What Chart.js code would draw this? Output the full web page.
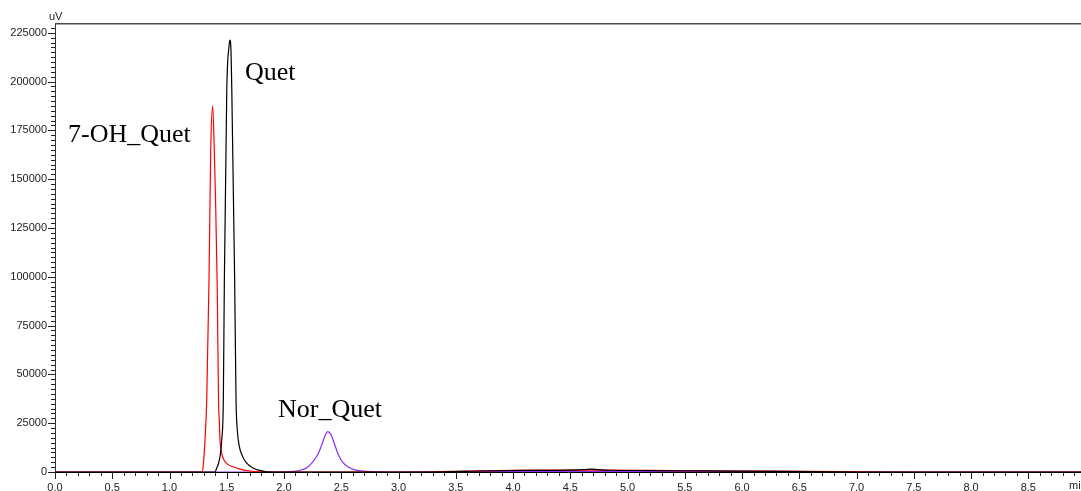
<!DOCTYPE html>
<html>
<head>
<meta charset="utf-8">
<title>Chromatogram</title>
<script src="https://cdn.jsdelivr.net/npm/chart.js@4/dist/chart.umd.min.js"></script>
<style>
  html, body { margin: 0; padding: 0; background: #ffffff; overflow: hidden; }
  canvas { display: block; }
</style>
</head>
<body>
<canvas id="chrom" width="1081" height="491"></canvas>
<script>
// Retention time (min) and detector response (uV) for each trace
const redTime = [0, 1.20, 1.284, 1.295, 1.310, 1.325, 1.345, 1.360, 1.377, 1.391, 1.402, 1.417, 1.428, 1.435, 1.441, 1.450, 1.459, 1.478, 1.509, 1.546, 1.616, 1.703, 1.80, 2.0, 3.2, 3.6, 4.0, 4.4, 4.8, 5.2, 5.6, 6.0, 6.6, 7.3, 8.96];
const redSignal = [0, 0, 0, 3600, 16400, 36900, 98400, 165000, 187600, 165000, 139400, 93300, 36900, 26000, 16400, 11500, 8700, 5900, 3900, 2800, 1500, 500, 100, 0, 0, 500, 800, 950, 950, 800, 650, 500, 300, 0, 0];

const blackTime = [0, 1.30, 1.397, 1.412, 1.435, 1.456, 1.470, 1.479, 1.500, 1.521, 1.528, 1.535, 1.544, 1.569, 1.581, 1.592, 1.610, 1.639, 1.674, 1.732, 1.790, 1.849, 2.0, 3.3, 3.7, 4.1, 4.5, 4.62, 4.68, 4.74, 4.85, 5.2, 5.7, 6.3, 7.0, 8.96];
const blackSignal = [0, 0, 0, 2000, 6100, 16400, 36900, 98300, 195700, 218800, 221300, 218800, 195700, 98300, 36900, 21500, 13000, 7800, 4500, 1900, 800, 100, 0, 0, 500, 800, 950, 1200, 1500, 1200, 900, 750, 550, 350, 0, 0];

const purpleTime = [0, 1.40, 2.00, 2.08, 2.15, 2.20, 2.25, 2.30, 2.33, 2.36, 2.382, 2.41, 2.44, 2.47, 2.51, 2.56, 2.62, 2.70, 2.81, 3.0, 3.5, 5.0, 6.5, 7.5, 8.96];
const purpleSignal = [0, 0, 0, 300, 1000, 2200, 5000, 9600, 14000, 18800, 20650, 19200, 14500, 9500, 5200, 2600, 1100, 400, 100, 0, 200, 300, 100, 0, 0];

// Axis ticks
const timeTicks = [0.0, 0.5, 1.0, 1.5, 2.0, 2.5, 3.0, 3.5, 4.0, 4.5, 5.0, 5.5, 6.0, 6.5, 7.0, 7.5, 8.0, 8.5];
const signalTicks = [0, 25000, 50000, 75000, 100000, 125000, 150000, 175000, 200000, 225000];

// Peak names and where they are written (time, response of text baseline)
const peakNames = ['7-OH_Quet', 'Quet', 'Nor_Quet'];
const peakLabelTime = [0.114, 1.659, 1.948];
const peakLabelSignal = [169200, 200800, 28000];

const pts = (t, v) => t.map((x, i) => ({ x: x, y: v[i] }));

// Minor/major tick marks, top frame, unit captions and peak names
const decorations = {
  id: 'decorations',
  afterDraw(chart) {
    const ctx = chart.ctx;
    const xs = chart.scales.x, ys = chart.scales.y;
    const area = chart.chartArea;
    ctx.save();
    ctx.strokeStyle = '#222';
    ctx.lineWidth = 1;
    ctx.beginPath();
    for (let i = 0; i <= 89; i++) {
      const v = i / 10;
      const px = Math.round(xs.getPixelForValue(v)) + 0.5;
      if (px > area.right) break;
      const len = (i % 5 === 0) ? 7 : 4;
      ctx.moveTo(px, area.bottom);
      ctx.lineTo(px, area.bottom + len);
    }
    for (let i = 0; i <= 91; i++) {
      const v = i * 2500;
      const py = Math.round(ys.getPixelForValue(v)) + 0.5;
      if (py < area.top) break;
      const len = (i % 10 === 0) ? 7 : 4;
      ctx.moveTo(area.left, py);
      ctx.lineTo(area.left - len, py);
    }
    ctx.stroke();

    // top frame
    ctx.strokeStyle = '#4a4a4a';
    ctx.lineWidth = 1.5;
    ctx.beginPath();
    ctx.moveTo(area.left, area.top + 0.75);
    ctx.lineTo(chart.width, area.top + 0.75);
    ctx.stroke();

    // units
    ctx.fillStyle = '#222';
    ctx.font = '11px "Liberation Sans", Arial, sans-serif';
    ctx.textBaseline = 'middle';
    ctx.textAlign = 'left';
    ctx.fillText('uV', area.left - 6, area.top - 6);
    ctx.fillText('min', 1069, area.bottom + 14);

    // peak names
    ctx.fillStyle = '#000';
    ctx.font = '26px "Liberation Serif", "Times New Roman", serif';
    ctx.textBaseline = 'alphabetic';
    peakNames.forEach((name, i) => {
      ctx.fillText(name, xs.getPixelForValue(peakLabelTime[i]), ys.getPixelForValue(peakLabelSignal[i]));
    });
    ctx.restore();
  }
};

const lineStyle = { borderWidth: 1.2, pointRadius: 0, fill: false, cubicInterpolationMode: 'monotone' };

new Chart(document.getElementById('chrom'), {
  type: 'line',
  data: {
    datasets: [
      Object.assign({ label: 'Quet', data: pts(blackTime, blackSignal), borderColor: '#000000' }, lineStyle),
      Object.assign({ label: '7-OH_Quet', data: pts(redTime, redSignal), borderColor: '#ff0000' }, lineStyle),
      Object.assign({ label: 'Nor_Quet', data: pts(purpleTime, purpleSignal), borderColor: '#8b2cf5' }, lineStyle)
    ]
  },
  options: {
    responsive: false,
    animation: false,
    devicePixelRatio: 1,
    layout: { padding: { top: 23, right: 0, bottom: 0, left: 0 } },
    plugins: { legend: { display: false }, tooltip: { enabled: false } },
    scales: {
      x: {
        type: 'linear',
        min: 0,
        max: 8.96,
        afterBuildTicks(scale) { scale.ticks = timeTicks.map(v => ({ value: v })); },
        afterFit(scale) { scale.height = 19; scale.paddingLeft = 0; scale.paddingRight = 0; },
        grid: { display: false, drawTicks: false },
        border: { display: true, color: '#000', width: 1 },
        ticks: {
          padding: 9,
          maxRotation: 0,
          autoSkip: false,
          color: '#222',
          font: { family: '"Liberation Sans", Arial, sans-serif', size: 11 },
          callback: v => Number(v).toFixed(1)
        }
      },
      y: {
        type: 'linear',
        min: 0,
        max: 230000,
        afterBuildTicks(scale) { scale.ticks = signalTicks.map(v => ({ value: v })); },
        afterFit(scale) { scale.width = 55; scale.paddingTop = 0; scale.paddingBottom = 0; },
        grid: { display: false, drawTicks: false },
        border: { display: true, color: '#333', width: 1 },
        ticks: {
          padding: 8,
          autoSkip: false,
          color: '#222',
          font: { family: '"Liberation Sans", Arial, sans-serif', size: 11 },
          callback: v => String(v)
        }
      }
    }
  },
  plugins: [decorations]
});
</script>
</body>
</html>
